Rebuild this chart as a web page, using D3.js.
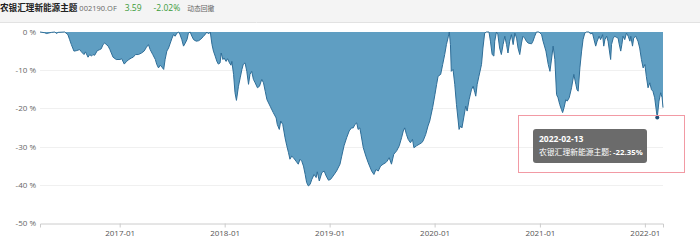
<!DOCTYPE html>
<html>
<head>
<meta charset="utf-8">
<script src="https://cdn.jsdelivr.net/npm/d3@7/dist/d3.min.js"></script>
<style>
  body { margin: 0; background: #fff; }
  svg text { font-family: "Open Sans", "Noto Sans CJK SC", sans-serif; }
</style>
</head>
<body>
<div id="main"></div>
<script>
// fund header
const fundName = "农银汇理新能源主题";
const fundCode = "002190.OF";
const nav = "3.59";
const navChange = "-2.02%";
const chartName = "动态回撤";

const yTicks = [0, -10, -20, -30, -40, -50];
const xTicks = ["2017-01", "2018-01", "2019-01", "2020-01", "2021-01", "2022-01"];

// drawdown series (%)
const dates = [
  "2016-03-30","2016-04-16","2016-04-21","2016-05-09","2016-05-21","2016-05-26","2016-06-01","2016-06-24",
  "2016-07-05","2016-07-11","2016-07-17","2016-07-26","2016-08-03","2016-08-15","2016-08-21","2016-08-30",
  "2016-09-04","2016-09-13","2016-09-19","2016-09-25","2016-09-30","2016-10-06","2016-10-15","2016-10-24",
  "2016-10-29","2016-11-04","2016-11-10","2016-11-22","2016-11-28","2016-12-09","2016-12-20",
  "2017-01-02","2017-01-08","2017-01-17","2017-01-25","2017-02-02","2017-02-11","2017-02-17","2017-02-25",
  "2017-03-07","2017-03-18","2017-03-27","2017-04-04","2017-04-11","2017-04-17","2017-04-26","2017-05-05",
  "2017-05-10","2017-05-16","2017-05-22","2017-05-28","2017-06-03","2017-06-08","2017-06-14","2017-06-20",
  "2017-06-26","2017-07-02","2017-07-07","2017-07-13","2017-07-19","2017-07-25","2017-07-30","2017-08-05",
  "2017-08-11","2017-08-17","2017-08-23","2017-08-28","2017-09-03","2017-09-09","2017-09-15","2017-09-24",
  "2017-10-02","2017-10-08","2017-10-14","2017-10-19","2017-10-25","2017-10-31","2017-11-06","2017-11-12",
  "2017-11-18","2017-11-23","2017-11-29","2017-12-05","2017-12-10","2017-12-16","2017-12-20","2017-12-26",
  "2017-12-30","2018-01-06","2018-01-11","2018-01-18","2018-01-23","2018-01-26","2018-02-01","2018-02-06",
  "2018-02-11","2018-02-18","2018-02-24","2018-03-02","2018-03-07","2018-03-13","2018-03-19","2018-03-25",
  "2018-03-30","2018-04-05","2018-04-11","2018-04-17","2018-04-25","2018-05-02","2018-05-10","2018-05-16",
  "2018-05-22","2018-05-28","2018-06-08","2018-06-19","2018-06-29","2018-07-03","2018-07-10","2018-07-15",
  "2018-07-22","2018-07-30","2018-08-05","2018-08-11","2018-08-16","2018-08-22","2018-08-28","2018-09-06",
  "2018-09-14","2018-09-20","2018-09-26","2018-10-02","2018-10-08","2018-10-13","2018-10-19","2018-10-25",
  "2018-10-31","2018-11-08","2018-11-15","2018-11-19","2018-11-26","2018-12-05","2018-12-13","2018-12-20",
  "2018-12-28","2019-01-04","2019-01-13","2019-01-25","2019-02-06","2019-02-12","2019-02-20","2019-03-01",
  "2019-03-10","2019-03-18","2019-03-24","2019-03-30","2019-04-05","2019-04-10","2019-04-16","2019-04-20",
  "2019-04-28","2019-05-07","2019-05-15","2019-05-27","2019-06-04","2019-06-11","2019-06-19","2019-06-27",
  "2019-07-06","2019-07-15","2019-07-20","2019-07-27","2019-08-04","2019-08-12","2019-08-22","2019-08-31",
  "2019-09-08","2019-09-14","2019-09-19","2019-09-25","2019-10-01","2019-10-09","2019-10-16","2019-10-21",
  "2019-10-30","2019-11-08","2019-11-17","2019-11-22","2019-12-01","2019-12-09","2019-12-15","2019-12-25",
  "2020-01-02","2020-01-08","2020-01-13","2020-01-22","2020-01-29","2020-02-05","2020-02-11","2020-02-18",
  "2020-02-21","2020-02-25","2020-02-28","2020-03-05","2020-03-11","2020-03-17","2020-03-23","2020-03-26",
  "2020-03-31","2020-04-05","2020-04-11","2020-04-18","2020-04-23","2020-04-30","2020-05-08","2020-05-14",
  "2020-05-20","2020-05-23","2020-05-28","2020-06-03","2020-06-12","2020-06-17","2020-06-23","2020-06-29",
  "2020-07-08","2020-07-13","2020-07-19","2020-07-25","2020-07-28","2020-08-03","2020-08-08","2020-08-14",
  "2020-08-20","2020-08-26","2020-09-01","2020-09-07","2020-09-12","2020-09-18","2020-09-24","2020-09-30",
  "2020-10-06","2020-10-12","2020-10-17","2020-10-23","2020-10-29","2020-11-03","2020-11-09","2020-11-15",
  "2020-11-21","2020-12-03","2020-12-08","2020-12-14","2020-12-20","2020-12-29",
  "2021-01-07","2021-01-12","2021-01-22","2021-01-30","2021-02-05","2021-02-11","2021-02-16","2021-02-22",
  "2021-02-28","2021-03-05","2021-03-11","2021-03-17","2021-03-21","2021-03-26","2021-04-01","2021-04-06",
  "2021-04-13","2021-04-21","2021-04-29","2021-05-06","2021-05-10","2021-05-14","2021-05-20","2021-05-26",
  "2021-05-31","2021-06-06","2021-06-12","2021-06-21","2021-06-26","2021-07-03","2021-07-07","2021-07-14",
  "2021-07-19","2021-07-26","2021-07-31","2021-08-07","2021-08-11","2021-08-15","2021-08-21","2021-08-26",
  "2021-09-04","2021-09-07","2021-09-13","2021-09-18","2021-09-24","2021-09-30","2021-10-03","2021-10-09",
  "2021-10-13","2021-10-17","2021-10-23","2021-10-29","2021-11-04","2021-11-10","2021-11-13","2021-11-19",
  "2021-11-23","2021-11-30","2021-12-08","2021-12-14","2021-12-20","2021-12-26",
  "2022-01-01","2022-01-06","2022-01-12","2022-01-18","2022-01-24","2022-01-29","2022-02-04","2022-02-10",
  "2022-02-13","2022-02-19","2022-02-25","2022-03-02","2022-03-05"
];
const drawdown = [
  0,-0.2,-0.4,-0.1,0,-0.4,-0.1,0,
  -0.7,-2.0,-3.3,-5.0,-4.9,-4.6,-5.2,-5.9,
  -5.2,-6.6,-5.9,-6.3,-5.9,-6.1,-4.9,-4.6,
  -4.4,-3.3,-2.9,-3.7,-4.6,-6.6,-7.2,
  -7.2,-7.0,-8.4,-7.7,-7.2,-6.8,-6.6,-5.9,
  -5.9,-5.5,-5.0,-4.0,-3.3,-4.6,-5.9,-7.2,
  -8.5,-9.4,-8.7,-9.2,-9.8,-7.2,-5.0,-4.2,
  -2.9,-1.6,-0.7,-1.1,-0.3,0,-0.7,-2.0,
  -3.7,-2.9,-2.0,-0.3,0,-1.1,-2.0,-2.4,
  -2.3,-2.0,-1.6,-1.1,-0.7,0,-0.5,0,
  -3.3,-5.0,-6.3,-7.7,-8.4,-8.1,-5.5,-7.2,
  -6.8,-7.7,-7.0,-8.1,-8.7,-7.7,-11.1,-15.9,
  -17.9,-14.2,-12.0,-9.8,-8.4,-8.1,-10.3,-13.7,
  -11.1,-10.3,-12.4,-13.3,-14.6,-14.2,-12.4,-13.3,
  -15.5,-17.7,-19.4,-21.1,-22.5,-24.2,-25.5,-23.3,
  -24.2,-27.7,-29.8,-31.6,-33.3,-32.5,-32.9,-33.8,
  -34.6,-33.3,-33.8,-35.1,-37.3,-39.4,-40.3,-39.9,
  -38.6,-37.3,-38.1,-36.6,-39.0,-36.8,-36.4,-37.7,
  -38.8,-38.6,-37.7,-36.4,-34.6,-32.5,-29.8,-27.7,
  -25.9,-25.1,-25.1,-24.2,-23.8,-25.5,-25.1,-26.8,
  -30.3,-32.5,-34.2,-36.4,-37.3,-36.0,-36.4,-35.1,
  -34.6,-34.2,-33.8,-32.9,-34.6,-32.0,-31.1,-29.8,
  -27.7,-25.9,-25.1,-26.8,-28.1,-29.0,-28.1,-30.3,
  -29.8,-29.4,-29.0,-28.5,-26.8,-24.6,-23.3,-19.8,
  -16.4,-13.7,-11.6,-11.1,-8.5,-5.9,-3.3,-1.1,
  0,-3.3,-10.3,-9.8,-13.7,-19.0,-23.3,-25.5,
  -24.6,-25.1,-22.5,-19.4,-20.7,-17.7,-15.1,-14.2,
  -15.9,-16.8,-13.7,-11.6,-8.5,-4.2,-0.3,0,
  0,-2.4,-5.9,-6.3,-2.4,0,-0.7,-4.2,
  -5.9,-3.3,-1.1,-3.3,-5.5,-2.4,-0.7,-3.3,
  -0.3,-1.6,-4.2,-5.9,-2.9,-1.1,-1.6,-2.4,
  -2.9,-3.1,-2.4,-1.1,0,0,
  -0.7,-2.4,-5.0,-8.5,-10.3,-6.8,-3.7,-7.2,
  -16.4,-17.2,-19.0,-20.3,-21.1,-19.8,-17.7,-18.1,
  -17.2,-14.6,-11.1,-13.7,-15.1,-15.5,-9.4,-5.0,
  -2.0,-0.3,0,0,-0.5,-0.3,-1.6,-3.7,
  -2.4,-1.1,-2.0,-0.7,-3.7,-2.0,-1.1,-2.4,
  -7.2,-3.3,-1.6,-1.1,-1.4,-1.6,-2.9,-5.0,
  -3.3,-1.1,-2.0,-0.3,-1.1,-2.4,-1.1,-3.7,
  -1.6,-1.1,-2.4,-4.2,-7.2,-9.4,
  -8.5,-11.6,-14.6,-13.3,-15.1,-15.5,-17.2,-20.7,
  -22.35,-18.1,-15.9,-17.2,-19.8
];

const tipDate = "2022-02-13";

const w = 700;
const h = 246;
const margin = { top: 32, right: 37, bottom: 23, left: 40 };

const parse = d3.timeParse("%Y-%m-%d");
const data = dates.map((d, i) => ({ date: parse(d), value: drawdown[i] }));

const svg = d3.select("#main").append("svg")
  .attr("width", w)
  .attr("height", h);

// header strip
svg.append("rect")
  .attr("x", 0).attr("y", 0)
  .attr("width", w).attr("height", 22)
  .attr("fill", "#f4f4f4");
svg.append("line")
  .attr("x1", 0).attr("x2", w)
  .attr("y1", 22.5).attr("y2", 22.5)
  .attr("stroke", "#e2e2e2");

const head = svg.append("text").attr("x", 0).attr("y", 11);
head.append("tspan").attr("font-weight", "bold").attr("font-size", "8.6px").attr("fill", "#222")
  .attr("font-family", "Noto Sans CJK SC").text(fundName);
head.append("tspan").attr("dx", 2).attr("font-size", "7.5px").attr("fill", "#666").text(fundCode);
head.append("tspan").attr("dx", 8).attr("font-size", "8.5px").attr("fill", "#3a9b3a").text(nav);
head.append("tspan").attr("dx", 12).attr("font-size", "8.5px").attr("fill", "#3a9b3a").text(navChange);
head.append("tspan").attr("dx", 7).attr("font-size", "6.8px").attr("fill", "#666")
  .attr("font-family", "Noto Sans CJK SC").text(chartName);

const x = d3.scaleTime()
  .domain(d3.extent(data, d => d.date))
  .range([margin.left, w - margin.right]);

const y = d3.scaleLinear()
  .domain([-50, 0])
  .range([h - margin.bottom, margin.top]);

// grid
svg.append("g")
  .selectAll("line")
  .data(yTicks.filter(t => t > -50))
  .join("line")
  .attr("x1", margin.left).attr("x2", w - margin.right)
  .attr("y1", d => Math.round(y(d)) + 0.5).attr("y2", d => Math.round(y(d)) + 0.5)
  .attr("stroke", "#f0f0f0");

// y labels
svg.append("g")
  .selectAll("text")
  .data(yTicks)
  .join("text")
  .attr("x", margin.left - 4)
  .attr("y", d => y(d) + 3)
  .attr("text-anchor", "end")
  .attr("font-size", "8px")
  .attr("fill", "#666")
  .text(d => d + " %");

// x axis
const xAxis = d3.axisBottom(x)
  .tickValues(xTicks.map(d => d3.timeParse("%Y-%m")(d)))
  .tickFormat(d3.timeFormat("%Y-%m"))
  .tickSize(4)
  .tickPadding(3);

const gx = svg.append("g")
  .attr("transform", "translate(0," + (Math.round(y(-50)) + 0.5) + ")")
  .call(xAxis);
gx.select(".domain").attr("stroke", "#ccc");
gx.selectAll(".tick line").attr("stroke", "#ccc");
gx.selectAll(".tick text").attr("fill", "#555").attr("font-size", "8px")
  .attr("font-family", "'Open Sans', sans-serif");

// area
const area = d3.area()
  .x(d => x(d.date))
  .y0(y(0))
  .y1(d => y(d.value));

const line = d3.line()
  .x(d => x(d.date))
  .y(d => y(d.value));

svg.append("path")
  .datum(data)
  .attr("d", area)
  .attr("fill", "#5f9ec2");

svg.append("path")
  .datum(data)
  .attr("d", line)
  .attr("fill", "none")
  .attr("stroke", "#2f6e98")
  .attr("stroke-width", 1);

// highlighted point + tooltip
const tip = data.find(d => d3.timeFormat("%Y-%m-%d")(d.date) === tipDate);

svg.append("circle")
  .attr("cx", x(tip.date))
  .attr("cy", y(tip.value))
  .attr("r", 2)
  .attr("fill", "#1f4e79");

svg.append("rect")
  .attr("x", 518.5).attr("y", 115.5)
  .attr("width", 166).attr("height", 57)
  .attr("fill", "none")
  .attr("stroke", "#f29aa4")
  .attr("stroke-width", 1);

const tg = svg.append("g").attr("transform", "translate(533,129)");
tg.append("rect")
  .attr("width", 114).attr("height", 34)
  .attr("rx", 3)
  .attr("fill", "#636363")
  .attr("opacity", 0.95);
tg.append("text")
  .attr("x", 6).attr("y", 13)
  .attr("font-size", "8.5px").attr("font-weight", "bold").attr("fill", "#fff")
  .text(tipDate);
const t2 = tg.append("text")
  .attr("x", 6).attr("y", 26)
  .attr("font-size", "7.8px").attr("fill", "#fff");
t2.append("tspan").attr("font-family", "Noto Sans CJK SC").text(fundName + ": ");
t2.append("tspan").attr("font-weight", "bold").text(tip.value.toFixed(2) + "%");
</script>
</body>
</html>
